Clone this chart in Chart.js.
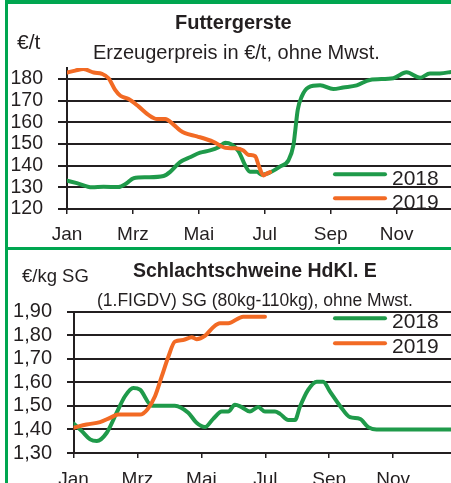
<!DOCTYPE html>
<html>
<head>
<meta charset="utf-8">
<script src="https://cdn.jsdelivr.net/npm/chart.js@4.4.1/dist/chart.umd.min.js"></script>
<style>
    body { margin: 0; background: #fff; }
    #wrap { position: relative; width: 451px; height: 483px; overflow: hidden;
            font-family: 'Liberation Sans', Arial, sans-serif; color: #231f20; }
    .frame { position: absolute; background: #00a650; }
    canvas { position: absolute; left: 0; }
    .txt { position: absolute; white-space: nowrap; line-height: 1; }
</style>
</head>
<body>
<div id="wrap">
    <canvas id="gersteChart" width="451" height="247" style="top:0"></canvas>
    <canvas id="schweineChart" width="451" height="233" style="top:250px"></canvas>

    <div class="txt" style="left:175px;top:12px;font-size:20px;font-weight:bold">Futtergerste</div>
    <div class="txt" style="left:17px;top:30.5px;font-size:21px">€/t</div>
    <div class="txt" style="left:93px;top:42.4px;font-size:20px">Erzeugerpreis in €/t, ohne Mwst.</div>

    <div class="txt" style="left:133px;top:260.8px;font-size:19.5px;font-weight:bold">Schlachtschweine HdKl. E</div>
    <div class="txt" style="left:22px;top:267.3px;font-size:18.5px">€/kg SG</div>
    <div class="txt" style="left:97px;top:291.9px;font-size:17.5px">(1.FIGDV) SG (80kg-110kg), ohne Mwst.</div>

    <div class="frame" style="left:5px;top:0;width:446px;height:4px"></div>
    <div class="frame" style="left:5px;top:0;width:3px;height:483px"></div>
    <div class="frame" style="left:5px;top:247px;width:446px;height:3px"></div>
</div>

<script>
// Monate als Zahl: 0 = Anfang Januar
const monthTicks = [0, 2, 4, 6, 8, 10];
const monthLabels = ['Jan', 'Mrz', 'Mai', 'Jul', 'Sep', 'Nov'];
const seriesLabels = ['2018', '2019'];

// Futtergerste, Euro/t
const gerste2018M = [0, 0.3, 0.76, 1.11, 1.56, 1.81, 2.02, 2.42, 2.93, 3.13, 3.43, 3.75, 4.04, 4.34, 4.6, 4.8,
    5.2, 5.4, 5.55, 5.76, 5.91, 6.1, 6.46, 6.72, 6.87, 6.92, 7.0, 7.12, 7.32, 7.68, 8.08, 8.38, 8.79, 9.19,
    9.9, 10.3, 10.71, 11.01, 11.31, 11.7];
const gerste2018 = [133.1, 131.9, 130.0, 130.2, 130.1, 131.9, 134.2, 134.6, 135.2, 137.1, 141.6, 144, 146, 147, 148.5, 150.5,
    146.7, 140.3, 137.2, 137.2, 135.8, 136.4, 139.5, 142.5, 149.4, 155.5, 165.7, 171.8, 176, 177, 175.3, 176, 177, 179.5,
    180.3, 183, 180.5, 182.5, 182.5, 183.3];
const gerste2019M = [0, 0.25, 0.5, 0.81, 1.06, 1.26, 1.46, 1.62, 1.87, 2.17, 2.47, 2.73, 2.98, 3.23, 3.43, 3.58,
    3.94, 4.44, 4.8, 5.1, 5.35, 5.5, 5.71, 5.81, 5.96, 6.06, 6.16];
const gerste2019 = [182.9, 183.8, 184.5, 182.9, 182.3, 180.3, 174.9, 172.2, 170.7, 167.3, 163.4, 161.5, 161.5, 158.9, 156.3, 155,
    153.5, 151, 148.2, 148, 147, 145, 144.3, 140.3, 135.5, 136.3, 137];
const gersteTicks = [120, 130, 140, 150, 160, 170, 180];

// Schlachtschweine, Euro/kg SG
const schwein2018M = [0, 0.26, 0.52, 0.73, 1.04, 1.35, 1.61, 1.87, 2.08, 2.45, 3.17, 3.59, 3.85, 4.11, 4.37, 4.64,
    4.84, 5.05, 5.26, 5.52, 5.78, 5.99, 6.3, 6.46, 6.72, 6.93, 7.08, 7.34, 7.61, 7.81, 8.02, 8.34, 8.65, 8.96,
    9.22, 9.48, 11.9];
const schwein2018 = [1.425, 1.393, 1.358, 1.351, 1.386, 1.471, 1.541, 1.576, 1.569, 1.501, 1.501, 1.471, 1.428, 1.41, 1.445, 1.476,
    1.476, 1.505, 1.495, 1.476, 1.495, 1.476, 1.476, 1.466, 1.44, 1.44, 1.495, 1.568, 1.603, 1.603, 1.562, 1.50, 1.452, 1.445,
    1.41, 1.40, 1.40];
const schwein2019M = [0, 0.41, 0.83, 1.14, 1.4, 2.08, 2.31, 2.55, 2.76, 2.97, 3.17, 3.43, 3.7, 3.85, 4.11, 4.37,
    4.58, 4.84, 5.31, 5.99];
const schwein2019 = [1.407, 1.421, 1.431, 1.449, 1.463, 1.463, 1.485, 1.541, 1.625, 1.71, 1.773, 1.78, 1.792, 1.783, 1.797, 1.834,
    1.851, 1.851, 1.879, 1.879];
const schweinTicks = [1.3, 1.4, 1.5, 1.6, 1.7, 1.8, 1.9];

const GREEN = '#1f9a4a';
const ORANGE = '#f26a24';
const INK = '#231f20';
const FONT = "'Liberation Sans', Arial, sans-serif";

function toPoints(months, values) {
    return months.map((m, i) => ({ x: m, y: values[i] }));
}

// Legende im Diagramm, rechts
const lineLegend = {
    id: 'lineLegend',
    afterDatasetsDraw(chart, args, opts) {
        const ctx = chart.ctx;
        const right = chart.chartArea.right;
        ctx.save();
        chart.data.datasets.forEach((ds, i) => {
            const y = opts.top + i * opts.step;
            ctx.strokeStyle = ds.borderColor;
            ctx.lineWidth = 4;
            ctx.lineCap = 'round';
            ctx.beginPath();
            ctx.moveTo(right - 116, y);
            ctx.lineTo(right - 66, y);
            ctx.stroke();
            ctx.fillStyle = INK;
            ctx.font = '21px ' + FONT;
            ctx.textBaseline = 'alphabetic';
            ctx.fillText(ds.label, right - 59, y + opts.textOffset);
        });
        ctx.restore();
    }
};

function makeChart(id, cfg) {
    return new Chart(document.getElementById(id), {
        type: 'line',
        data: {
            datasets: [
                { label: seriesLabels[0], data: cfg.d2018, borderColor: GREEN, order: 1 },
                { label: seriesLabels[1], data: cfg.d2019, borderColor: ORANGE, order: 0 }
            ]
        },
        options: {
            responsive: false,
            animation: false,
            devicePixelRatio: 1,
            layout: { padding: { top: cfg.padTop, left: 0, right: 0, bottom: 0 } },
            elements: {
                line: { borderWidth: 4, tension: 0.4, cubicInterpolationMode: 'monotone', borderCapStyle: 'round' },
                point: { radius: 0 }
            },
            plugins: {
                legend: { display: false },
                tooltip: { enabled: false },
                lineLegend: cfg.legend
            },
            scales: {
                x: {
                    type: 'linear',
                    min: 0,
                    max: cfg.xMax,
                    afterFit: s => { s.height = cfg.xHeight; },
                    afterBuildTicks: s => { s.ticks = monthTicks.map(v => ({ value: v })); },
                    grid: { drawOnChartArea: false, color: INK, lineWidth: 1.5, tickLength: 5 },
                    border: { color: INK, width: 2 },
                    ticks: {
                        autoSkip: false,
                        color: INK,
                        font: { family: FONT, size: 19 },
                        padding: cfg.xPad,
                        maxRotation: 0,
                        callback: v => monthLabels[monthTicks.indexOf(v)]
                    }
                },
                y: {
                    min: cfg.yMin,
                    max: cfg.yMax,
                    afterFit: s => { s.width = cfg.yWidth; },
                    afterBuildTicks: s => { s.ticks = cfg.yTicks.map(v => ({ value: v })); },
                    grid: { color: INK, lineWidth: 2, tickLength: cfg.yTick },
                    border: { color: INK, width: 2 },
                    ticks: {
                        autoSkip: false,
                        color: INK,
                        font: { family: FONT, size: cfg.yFont },
                        padding: 15,
                        callback: cfg.yFormat
                    }
                }
            }
        },
        plugins: [lineLegend]
    });
}

makeChart('gersteChart', {
    d2018: toPoints(gerste2018M, gerste2018),
    d2019: toPoints(gerste2019M, gerste2019),
    padTop: 68, xHeight: 38, xPad: 9, xMax: 11.65,
    yMin: 120, yMax: 185, yTicks: gersteTicks, yWidth: 67, yTick: 9, yFont: 19.5,
    yFormat: v => String(v),
    legend: { top: 174.3, step: 24, textOffset: 11 }
});

makeChart('schweineChart', {
    d2018: toPoints(schwein2018M, schwein2018),
    d2019: toPoints(schwein2019M, schwein2019),
    padTop: 61.7, xHeight: 30, xPad: 10.5, xMax: 11.81,
    yMin: 1.3, yMax: 1.9, yTicks: schweinTicks, yWidth: 73.5, yTick: 6.5, yFont: 20,
    yFormat: v => v.toFixed(2).replace('.', ','),
    legend: { top: 68.3, step: 25, textOffset: 10 }
});
</script>
</body>
</html>
